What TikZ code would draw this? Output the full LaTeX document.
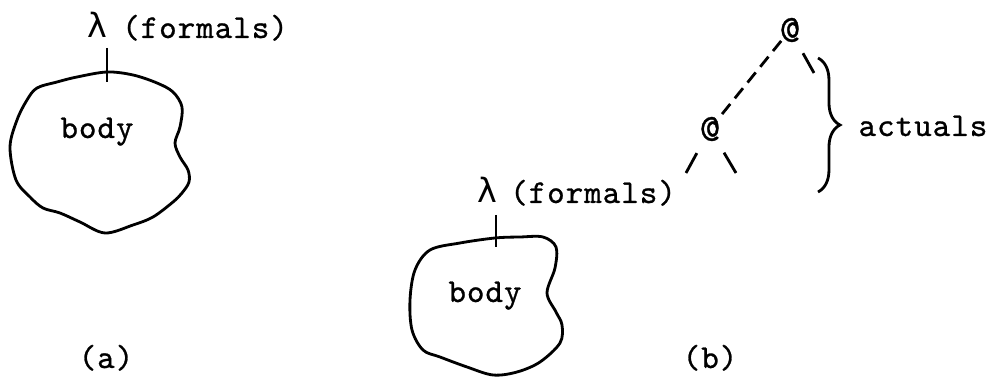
\documentclass[tikz,border=0pt]{standalone}
\usepackage{fontspec}
\setmonofont{lmmono10-regular}[Extension=.otf, LetterSpace=3, FakeBold=0.8]
\newfontfamily\lamfont{DejaVu Sans}
\usetikzlibrary{decorations.pathreplacing, positioning}

\begin{document}
\begin{tikzpicture}[x=0.02cm, y=-0.02cm,
    txt/.style={inner sep=0pt, anchor=base, font=\ttfamily\fontsize{19}{21}\selectfont},
    lam/.style={inner sep=0pt, anchor=base, font=\lamfont\fontsize{19}{21}\selectfont},
    app/.style={circle, inner sep=0pt, minimum size=15pt, font=\ttfamily\fontsize{22}{24}\selectfont},
    blob/.style={line width=1.6pt, line join=round},
    edge/.style={line width=1.6pt},
]
\useasboundingbox (0,0) rectangle (994,377);

% (a) lambda alone
\node[lam] (lama) at (97,38) {λ};
\node[txt] (frma) at (205,38) {(formals)};
\coordinate (tkta) at (107,48);
\coordinate (tkba) at (107,82);
\draw[edge] (tkta) -- (tkba);
\draw[blob] plot[smooth cycle, tension=0.55] coordinates {
    (107,72) (133,75) (157,83) (173,92) (182,107) (180,127) (175,143)
    (180,157) (188,170) (189,182) (182,193) (173,202) (153,217) (133,225)
    (105,233) (80,222) (60,213) (43,208) (30,197) (16,180) (10,147)
    (17,120) (27,100) (37,88) (57,82) (77,77)};
\node[txt] (bodya) at (97,138) {body};
\node[txt] (capa) at (106,368) {(a)};

% (b) applied to actuals
\node[app] (at1) at (790,30) {@};
\node[app] (at2) at (710,129) {@};
\coordinate (leafr1) at (814,73);
\coordinate (leafl2) at (686,173);
\coordinate (leafr2) at (736,173);
\draw[edge, dash pattern=on 7.4pt off 4.13pt, shorten <=8pt, shorten >=10.7pt] (at1.center) -- (at2.center);
\draw[edge, shorten <=6pt] (at1) -- (leafr1);
\draw[edge, shorten <=6.5pt] (at2) -- (leafl2);
\draw[edge, shorten <=6.5pt] (at2) -- (leafr2);

\coordinate (brt) at (818,58);
\coordinate (brb) at (818,192);
\draw[edge, decorate, decoration={brace, amplitude=12.5pt}] (brt) -- (brb);
\node[txt] (act) at (923,136) {actuals};

\node[lam] (lamb) at (487,203) {λ};
\node[txt] (frmb) at (593,203) {(formals)};
\coordinate (tktb) at (496,215);
\coordinate (tkbb) at (496,247);
\draw[edge] (tktb) -- (tkbb);
\draw[blob] plot[smooth cycle, tension=0.55] coordinates {
    (495,238) (520,237) (543,237) (556,247) (555,268) (547,293)
    (556,312) (562,325) (560,343) (540,362) (517,372) (493,375)
    (467,367) (440,357) (423,350) (412,330) (410,300) (415,270)
    (430,250) (460,243)};
\node[txt] (bodyb) at (485,302) {body};
\node[txt] (capb) at (710,368) {(b)};
\end{tikzpicture}
\end{document}
